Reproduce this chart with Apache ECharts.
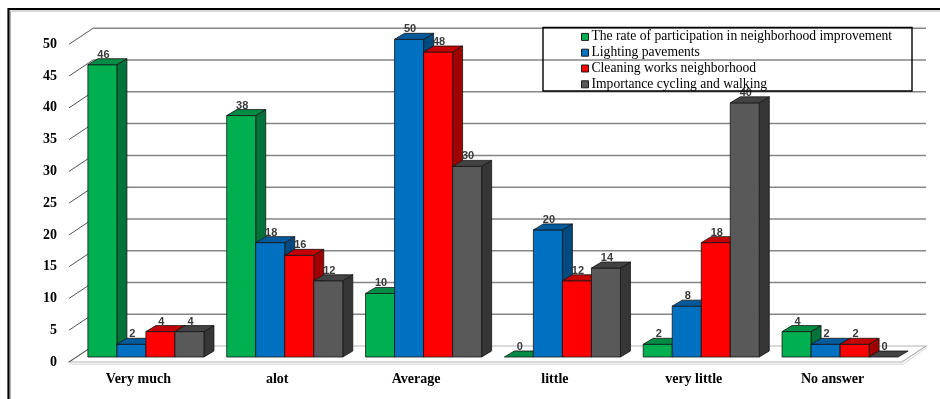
<!DOCTYPE html>
<html>
<head>
<meta charset="utf-8">
<script src="https://cdn.jsdelivr.net/npm/echarts@6/dist/echarts.min.js"></script>
<style>
  html, body { margin: 0; padding: 0; background: #fff; }
  #chart { width: 940px; height: 399px; }
</style>
</head>
<body>
<div id="chart"></div>
<script>
// Survey answers per category, one array per question
const categories = ['Very much', 'alot', 'Average', 'little', 'very little', 'No answer'];
const participation = [46, 38, 10, 0, 2, 4];
const lighting = [2, 18, 50, 20, 8, 2];
const cleaning = [4, 16, 48, 12, 18, 2];
const cycling = [4, 12, 30, 14, 40, 0];
const seriesNames = [
  'The rate of participation in neighborhood improvement',
  'Lighting pavements',
  'Cleaning works neighborhood',
  'Importance cycling and walking'
];
const yTicks = [0, 5, 10, 15, 20, 25, 30, 35, 40, 45, 50];

// Face colours: front, side, top
const palette = [
  { front: '#00B050', side: '#00733A', top: '#008C44' },
  { front: '#0070C0', side: '#004A80', top: '#005A9C' },
  { front: '#FF0000', side: '#A00000', top: '#C40000' },
  { front: '#595959', side: '#363636', top: '#424242' }
];

// Pseudo-3D geometry (pixels)
const BAR_SHIFT = { dx: 7.5, dy: -5 };   // floor front edge -> bar front plane
const BAR_DEPTH = { dx: 10, dy: -6 };    // bar front plane -> bar back plane
const WALL = { dx: 24, dy: -16 };        // floor front edge -> back wall
const GROUP_RATIO = 116 / 138.75;

const chart = echarts.init(document.getElementById('chart'), null, { renderer: 'canvas' });

function wallItem(params, api) {
  const cs = params.coordSys;
  const v = api.value(1);
  const p = api.coord([0, v]);
  const y = p[1];
  const x0 = cs.x, x1 = cs.x + cs.width;
  const children = [];
  const lineStyle = { stroke: '#858585', lineWidth: 1.5 };
  if (v === 0) {
    children.push({
      type: 'polygon',
      shape: { points: [[x0, y], [x1, y], [x1 + WALL.dx, y + WALL.dy], [x0 + WALL.dx, y + WALL.dy]] },
      style: { fill: '#ffffff', stroke: '#b4b4b4', lineWidth: 1.2 }
    });
    children.push({
      type: 'polyline',
      shape: { points: [[x0 + 1, y + 2.2], [x1 + 1, y + 2.2], [x1 + WALL.dx + 1, y + WALL.dy + 1.5]] },
      style: { fill: null, stroke: '#d4d4d4', lineWidth: 1 }
    });
  } else {
    children.push({
      type: 'line',
      shape: { x1: x0 + WALL.dx, y1: y + WALL.dy, x2: x1 + WALL.dx, y2: y + WALL.dy },
      style: lineStyle
    });
  }
  children.push({
    type: 'line',
    shape: { x1: x0, y1: y, x2: x0 + WALL.dx, y2: y + WALL.dy },
    style: { stroke: '#555', lineWidth: 1 }
  });
  return { type: 'group', children: children };
}

function barRenderer(s) {
  const c = palette[s];
  return function (params, api) {
    const i = api.value(0);
    const v = api.value(1);
    const base = api.coord([i, 0]);
    const top = api.coord([i, v]);
    const band = api.size([1, 0])[0];
    const groupW = band * GROUP_RATIO;
    const w = groupW / 4;
    const x = base[0] - groupW / 2 + s * w + BAR_SHIFT.dx;
    const yb = base[1] + BAR_SHIFT.dy;
    const yt = top[1] + BAR_SHIFT.dy;
    const edge = { stroke: '#151515', lineWidth: 0.8 };
    const children = [];
    if (yb - yt > 0.1) {
      children.push({
        type: 'polygon',
        shape: { points: [[x + w, yb], [x + w + BAR_DEPTH.dx, yb + BAR_DEPTH.dy], [x + w + BAR_DEPTH.dx, yt + BAR_DEPTH.dy], [x + w, yt]] },
        style: Object.assign({ fill: c.side }, edge)
      });
      children.push({
        type: 'rect',
        shape: { x: x, y: yt, width: w, height: yb - yt },
        style: Object.assign({ fill: c.front }, edge)
      });
    }
    children.push({
      type: 'polygon',
      shape: { points: [[x, yt], [x + w, yt], [x + w + BAR_DEPTH.dx, yt + BAR_DEPTH.dy], [x + BAR_DEPTH.dx, yt + BAR_DEPTH.dy]] },
      style: Object.assign({ fill: c.top }, edge)
    });
    children.push({
      type: 'text',
      style: {
        x: x + w / 2 + 1,
        y: yt - 10,
        text: String(v),
        align: 'center',
        verticalAlign: 'middle',
        font: 'bold 11px "Liberation Sans", Arial, sans-serif',
        fill: '#3a3a3a'
      },
      z2: 10
    });
    return { type: 'group', children: children };
  };
}

const valueSets = [participation, lighting, cleaning, cycling];

const series = [{
  type: 'custom',
  name: 'walls',
  z: 1,
  silent: true,
  encode: { x: 0, y: 1 },
  data: yTicks.map(function (v) { return [0, v]; }),
  renderItem: wallItem
}];
valueSets.forEach(function (vals, s) {
  series.push({
    type: 'custom',
    name: seriesNames[s],
    z: 2,
    encode: { x: 0, y: 1 },
    itemStyle: { color: palette[s].front },
    data: vals.map(function (v, i) { return [i, v]; }),
    renderItem: barRenderer(s)
  });
});

const serifBold = {
  fontFamily: '"Liberation Serif", "Times New Roman", serif',
  fontWeight: 'bold',
  fontSize: 14,
  color: '#000'
};

chart.setOption({
  animation: false,
  backgroundColor: '#ffffff',
  color: palette.map(function (p) { return p.front; }),
  grid: { left: 69, right: 38, top: 44.3, bottom: 37 },
  xAxis: {
    type: 'category',
    data: categories,
    axisLine: { show: false },
    axisTick: { show: false },
    axisLabel: Object.assign({ margin: 10 }, serifBold)
  },
  yAxis: {
    type: 'value',
    min: 0,
    max: 50,
    interval: 5,
    axisLine: { show: false },
    axisTick: { show: false },
    splitLine: { show: false },
    axisLabel: Object.assign({ margin: 12 }, serifBold)
  },
  legend: {
    data: seriesNames,
    orient: 'vertical',
    left: 581,
    top: 29,
    padding: 0,
    icon: 'rect',
    itemWidth: 7,
    itemHeight: 7,
    itemGap: 0,
    itemStyle: { borderColor: '#1a1a1a', borderWidth: 1 },
    textStyle: {
      fontFamily: '"Liberation Serif", "Times New Roman", serif',
      fontSize: 13.6,
      lineHeight: 15.8,
      color: '#000',
      padding: [0, 0, 0, -2]
    },
    selectedMode: false
  },
  graphic: [
    {
      type: 'rect',
      z: 100,
      silent: true,
      shape: { x: 543, y: 27.5, width: 369, height: 63.5 },
      style: { fill: null, stroke: '#000', lineWidth: 1.4 }
    },
    {
      type: 'rect',
      z: 100,
      silent: true,
      shape: { x: 10.5, y: 11, width: 1000, height: 1000 },
      style: { fill: null, stroke: '#b0b0b0', lineWidth: 1 }
    },
    {
      type: 'rect',
      z: 101,
      silent: true,
      shape: { x: 8.5, y: 9, width: 1000, height: 1000 },
      style: { fill: null, stroke: '#000', lineWidth: 2.2 }
    }
  ],
  series: series
});
</script>
</body>
</html>
